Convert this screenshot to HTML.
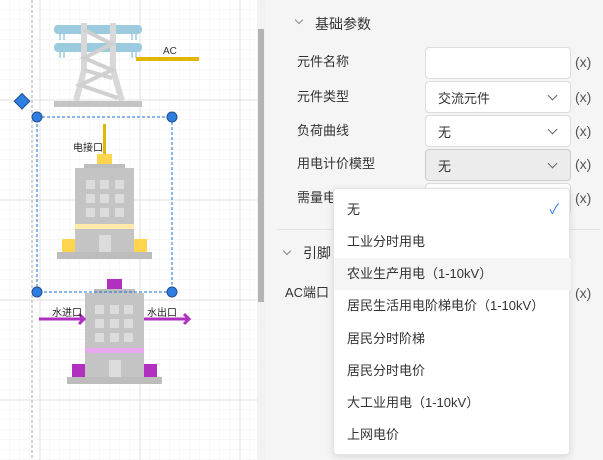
<!DOCTYPE html>
<html><head><meta charset="utf-8"><style>
*{margin:0;padding:0;box-sizing:border-box}
body{width:603px;height:460px;overflow:hidden;position:relative;font-family:"Liberation Sans","Noto Sans CJK SC",sans-serif;background:#fff}
.abs{position:absolute}
.t{position:absolute;font-size:13px;color:#333;line-height:16px;white-space:nowrap}
.inp{position:absolute;left:425px;width:146px;height:32px;border:1px solid #dcdcdc;border-radius:4px;background:#fff}
.inp span{position:absolute;left:12px;top:6px;font-size:13px;color:#333}
.inp i{position:absolute;right:14px;top:10px;width:7px;height:7px;border-right:1.5px solid #666;border-bottom:1.5px solid #666;transform:rotate(45deg)}
.x{position:absolute;left:575px;font-size:14px;color:#555}
.it{position:absolute;left:0;width:237px;height:32px;font-size:13px;color:#333;padding-left:13px;line-height:32px}
</style></head><body>
<svg class="abs" style="left:0;top:0" width="265" height="460">
<defs>
<pattern id="g" width="10" height="10" patternUnits="userSpaceOnUse" x="0" y="0"><path d="M10 0V10H0" fill="none" stroke="#f0f0f0" stroke-width="1"/></pattern>
</defs>
<rect width="265" height="460" fill="#fff"/>
<rect width="257" height="460" fill="url(#g)"/>
<g stroke="#e2e2e2" stroke-width="1">
<line x1="40" y1="0" x2="40" y2="460"/><line x1="140" y1="0" x2="140" y2="460"/><line x1="240" y1="0" x2="240" y2="460"/>
<line x1="0" y1="100" x2="257" y2="100"/><line x1="0" y1="200" x2="257" y2="200"/><line x1="0" y1="300" x2="257" y2="300"/><line x1="0" y1="400" x2="257" y2="400"/>
</g>
<line x1="32" y1="0" x2="32" y2="460" stroke="#aaa" stroke-dasharray="3,2"/>
<rect x="54" y="25" width="88" height="9" rx="4" fill="#9ccbe0"/>
<rect x="54" y="43" width="88" height="9" rx="4" fill="#9ccbe0"/>
<g stroke="#9ccbe0" stroke-width="1.5"><line x1="60" y1="34" x2="60" y2="40"/><line x1="64" y1="34" x2="64" y2="40"/><line x1="132" y1="34" x2="132" y2="40"/><line x1="136" y1="34" x2="136" y2="40"/><line x1="60" y1="52" x2="60" y2="58"/><line x1="64" y1="52" x2="64" y2="58"/><line x1="132" y1="52" x2="132" y2="58"/><line x1="136" y1="52" x2="136" y2="58"/></g>
<g stroke="#d8d8d8" stroke-width="6" fill="none">
<path d="M84 23 L84 70 L76 101"/><path d="M113 23 L113 70 L122 101"/>
</g>
<g stroke="#d0d0d0" stroke-width="4" fill="none">
<path d="M84 30 L112 44 L84 58 L112 70 L80 85 L118 98"/><path d="M84 70 L112 78"/>
</g>
<rect x="54" y="101" width="88" height="6" fill="#c4c4c4"/>
<rect x="136" y="57" width="63" height="4" fill="#e0b800"/>
<text x="163" y="54" font-size="10" fill="#333" font-family="Liberation Sans">AC</text>
<rect x="16" y="96" width="11" height="11" fill="#2f7de1" stroke="#1f4f8f" transform="rotate(45 22 102)"/>
<rect x="103" y="124" width="3" height="31" fill="#e0b800"/>
<rect x="97" y="154" width="15" height="10" fill="#ffd54f"/>
<rect x="84" y="164" width="41" height="5" fill="#bdbdbd"/>
<rect x="75" y="168" width="59" height="85" fill="#c4c4c4"/>
<g fill="#dcdcdc">
<rect x="86" y="180" width="9" height="9"/><rect x="100" y="180" width="9" height="9"/><rect x="115" y="180" width="9" height="9"/>
<rect x="86" y="194" width="9" height="9"/><rect x="100" y="194" width="9" height="9"/><rect x="115" y="194" width="9" height="9"/>
<rect x="86" y="208" width="9" height="9"/><rect x="100" y="208" width="9" height="9"/><rect x="115" y="208" width="9" height="9"/>
<rect x="99" y="235" width="12" height="17"/>
</g>
<rect x="75" y="224" width="59" height="5" fill="#ffeaa8"/>
<rect x="62" y="239" width="13" height="14" fill="#ffd54f"/><rect x="134" y="239" width="13" height="14" fill="#ffd54f"/>
<rect x="57" y="252" width="95" height="7" fill="#bdbdbd"/>
<text x="73" y="151" font-size="10" fill="#222" font-family="Liberation Sans,Noto Sans CJK SC">电接口</text>
<rect x="107" y="279" width="15" height="10" fill="#b030c0"/>
<rect x="94" y="289" width="41" height="5" fill="#bdbdbd"/>
<rect x="85" y="293" width="59" height="85" fill="#c4c4c4"/>
<g fill="#dcdcdc">
<rect x="95" y="305" width="9" height="9"/><rect x="110" y="305" width="9" height="9"/><rect x="124" y="305" width="9" height="9"/>
<rect x="95" y="319" width="9" height="9"/><rect x="110" y="319" width="9" height="9"/><rect x="124" y="319" width="9" height="9"/>
<rect x="95" y="333" width="9" height="9"/><rect x="110" y="333" width="9" height="9"/><rect x="124" y="333" width="9" height="9"/>
<rect x="109" y="360" width="12" height="17"/>
</g>
<rect x="85" y="348" width="59" height="5" fill="#e8a8f0"/>
<rect x="72" y="364" width="13" height="14" fill="#b030c0"/><rect x="144" y="364" width="13" height="14" fill="#b030c0"/>
<rect x="67" y="377" width="95" height="7" fill="#bdbdbd"/>
<g stroke="#b030c0" stroke-width="3" fill="none"><line x1="39" y1="319" x2="83" y2="319"/><polyline points="79,314 84,319 79,324"/><line x1="144" y1="319" x2="188" y2="319"/><polyline points="184,314 189,319 184,324"/></g>
<text x="52" y="316" font-size="10" fill="#222" font-family="Liberation Sans,Noto Sans CJK SC">水进口</text>
<text x="147" y="316" font-size="10" fill="#222" font-family="Liberation Sans,Noto Sans CJK SC">水出口</text>
<rect x="37" y="117" width="135" height="175" fill="none" stroke="#1a6fd6" stroke-dasharray="3,2"/>
<g fill="#2f7de1" stroke="#1f4f8f"><circle cx="37" cy="117" r="5"/><circle cx="172" cy="117" r="5"/><circle cx="37" cy="292" r="5"/><circle cx="172" cy="292" r="5"/></g>
<rect x="257" y="0" width="8" height="460" fill="#f2f2f2"/>
<rect x="258" y="29" width="6" height="273" fill="#b3b3b3"/>
</svg>
<div class="abs" style="left:265px;top:0;width:338px;height:460px;background:#f5f5f5"></div>
<div class="abs" style="left:296px;top:17px;width:6px;height:6px;border-right:1.3px solid #888;border-bottom:1.3px solid #888;transform:rotate(45deg)"></div>
<div class="t" style="left:315px;top:16px;font-size:14px">基础参数</div>
<div class="t" style="left:297px;top:54px">元件名称</div>
<div class="t" style="left:297px;top:89px">元件类型</div>
<div class="t" style="left:297px;top:123px">负荷曲线</div>
<div class="t" style="left:297px;top:156px">用电计价模型</div>
<div class="t" style="left:297px;top:190px">需量电</div>
<div class="inp" style="top:47px"></div>
<div class="inp" style="top:81px"><span>交流元件</span><i></i></div>
<div class="inp" style="top:115px"><span>无</span><i></i></div>
<div class="inp" style="top:149px;background:#ececec;border-color:#ccc"><span>无</span><i></i></div>
<div class="inp" style="top:183px"></div>
<div class="x" style="top:54px">(x)</div><div class="x" style="top:89px">(x)</div><div class="x" style="top:123px">(x)</div><div class="x" style="top:156px">(x)</div><div class="x" style="top:190px">(x)</div><div class="x" style="top:285px">(x)</div>
<div class="abs" style="left:277px;top:229px;width:323px;height:1px;background:#e2e2e2"></div>
<div class="abs" style="left:284px;top:248px;width:6px;height:6px;border-right:1.3px solid #888;border-bottom:1.3px solid #888;transform:rotate(45deg)"></div>
<div class="t" style="left:303px;top:245px;font-size:14px">引脚</div>
<div class="t" style="left:285px;top:285px">AC端口</div>
<div class="abs" style="left:333px;top:188px;width:237px;height:267px;background:#fff;border:1px solid #e4e4e4;border-radius:4px;box-shadow:0 2px 8px rgba(0,0,0,.12)">
<div class="it" style="top:5px">无<span style="position:absolute;right:12px;top:-1px;color:#2f7de1;font-size:14px">✓</span></div>
<div class="it" style="top:37px">工业分时用电</div>
<div class="it" style="top:69px;background:#f5f5f5">农业生产用电（1-10kV）</div>
<div class="it" style="top:101px">居民生活用电阶梯电价（1-10kV）</div>
<div class="it" style="top:134px">居民分时阶梯</div>
<div class="it" style="top:166px">居民分时电价</div>
<div class="it" style="top:198px">大工业用电（1-10kV）</div>
<div class="it" style="top:230px">上网电价</div>
</div>
</body></html>
